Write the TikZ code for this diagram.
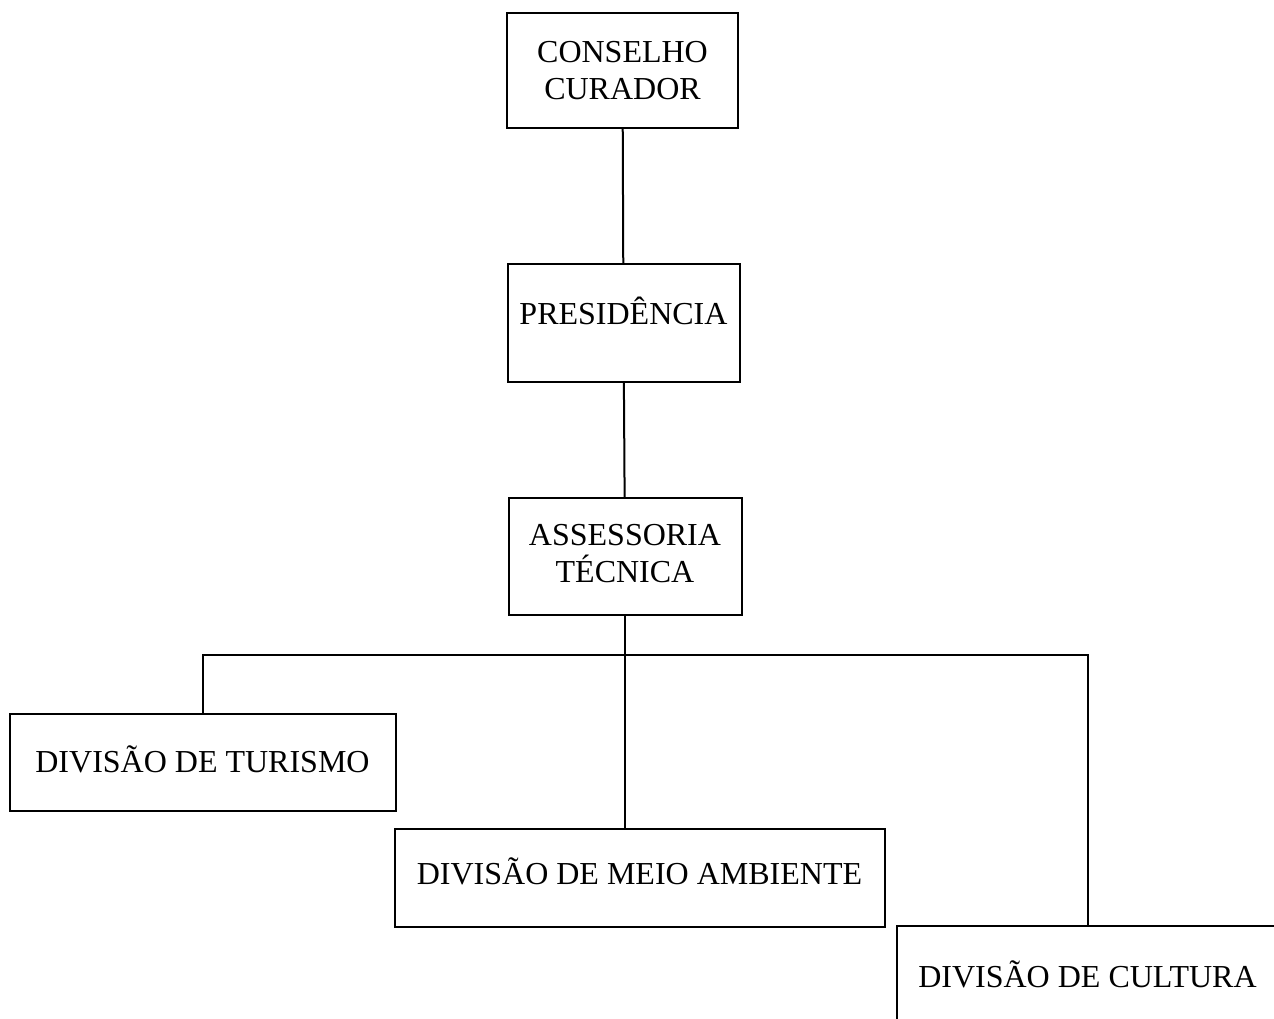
\documentclass[tikz,border=0pt]{standalone}
\usepackage{fontspec}
\setmainfont{Liberation Serif}
\begin{document}
\begin{tikzpicture}[
  x=0.5pt, y=-0.5pt,
  unit/.style={rectangle, draw, line width=1pt, align=center, inner sep=0pt, font=\fontsize{16}{18.5}\selectfont},
  link/.style={line width=1pt}
]
\useasboundingbox (0,0) rectangle (1274,1018);
\clip (0,0) rectangle (1274,1018);

\node[unit, minimum width=115.5pt, minimum height=57.5pt] (conselho) at (622.5,70.5) {CONSELHO\\CURADOR};
\node[unit, minimum width=116pt, minimum height=59pt, text depth=12pt, below of=conselho, node distance=126.25pt, xshift=0.5pt] (presidencia) {PRESIDÊNCIA};
\node[unit, minimum width=116.5pt, minimum height=58.5pt, text depth=3pt, below of=presidencia, node distance=116.75pt, xshift=0.75pt] (assessoria) {ASSESSORIA\\TÉCNICA};

\node[unit, minimum width=193pt, minimum height=48.5pt, text depth=3pt, below of=assessoria, node distance=103pt, xshift=-211.25pt] (turismo) {DIVISÃO DE TURISMO};
\node[unit, minimum width=245pt, minimum height=49pt, text depth=7pt, below of=assessoria, node distance=160.75pt, xshift=7.25pt] (meio) {DIVISÃO DE MEIO AMBIENTE};
\node[unit, minimum width=191pt, minimum height=48.5pt, below of=assessoria, node distance=209pt, xshift=231.25pt] (cultura) {DIVISÃO DE CULTURA};

\coordinate (bus) at ([yshift=-19.5pt]assessoria.south);

\draw[link] (conselho) -- (presidencia);
\draw[link] (presidencia) -- (assessoria);
\draw[link] (assessoria.south) -- (assessoria.south |- meio.north);
\draw[link] (turismo.north) |- (bus) -| (cultura.north);
\end{tikzpicture}
\end{document}
